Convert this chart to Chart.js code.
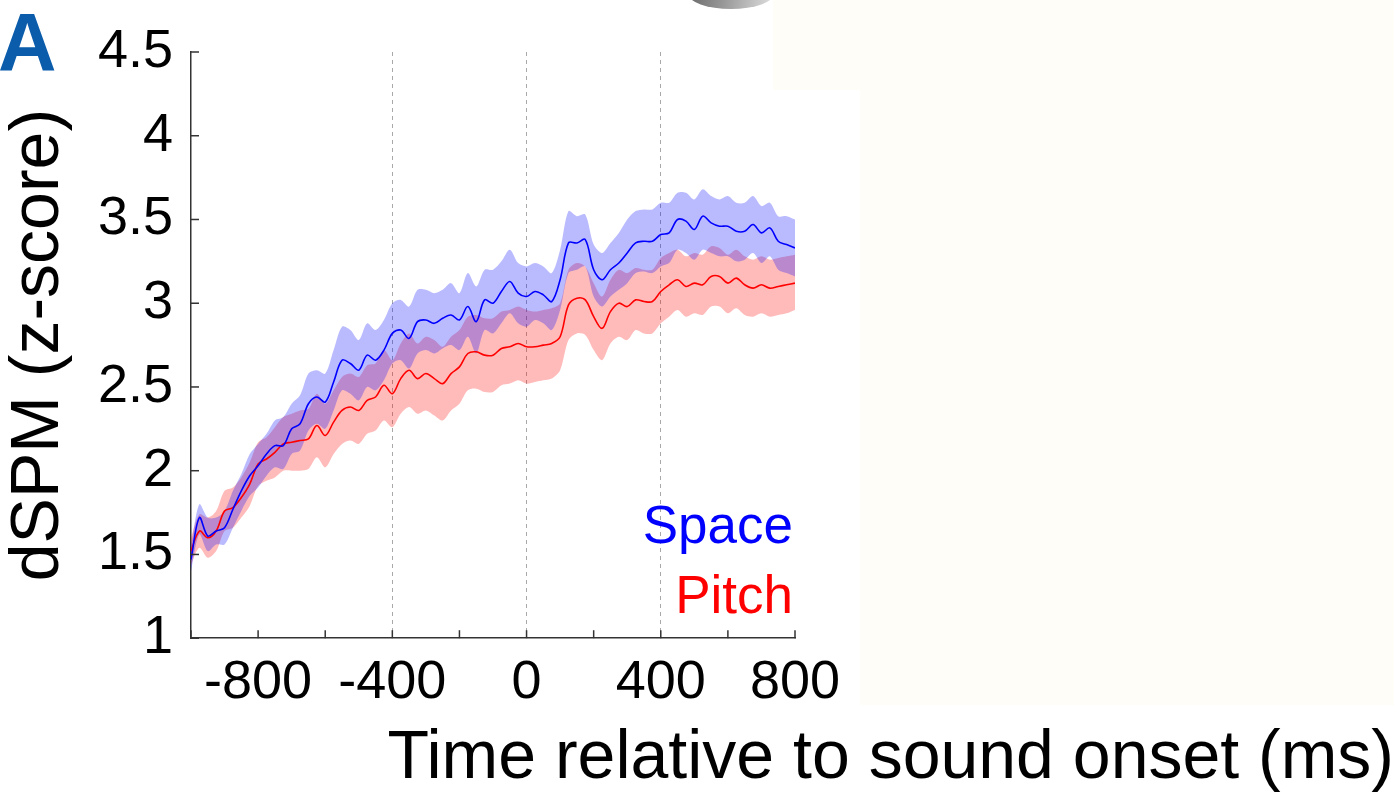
<!DOCTYPE html>
<html>
<head>
<meta charset="utf-8">
<script src="https://cdn.jsdelivr.net/npm/chart.js@4.4.1/dist/chart.umd.min.js"></script>
<style>
  html, body { margin: 0; padding: 0; background: #ffffff; overflow: hidden; }
  #wrap { position: absolute; left: 0; top: 0; width: 1394px; height: 797px; }
  .cream { position: absolute; background: #fffdf8; }
  #blob { position: absolute; left: 688px; top: -22px; width: 86px; height: 31px; border-radius: 50%;
          background: linear-gradient(100deg, #666 0%, #9a9a9a 45%, #e0e0e0 100%); }
  canvas { position: absolute; left: 0; top: 0; }
</style>
</head>
<body>
<div id="wrap">
  <div class="cream" style="left:773px; top:0; width:621px; height:90px;"></div>
  <div class="cream" style="left:860px; top:0; width:534px; height:705px;"></div>
  <div id="blob"></div>
  <canvas id="chart" width="1394" height="797"></canvas>
</div>
<script>
const times = [-1000, -975, -950, -925, -900, -875, -850, -825, -800, -775, -750, -725, -700, -675, -650, -625,
    -600, -575, -550, -525, -500, -475, -450, -425, -400, -375, -350, -325, -300, -275, -250, -225,
    -200, -175, -150, -125, -100, -75, -50, -25, 0, 25, 50, 75, 100, 125, 150, 175,
    200, 225, 250, 275, 300, 325, 350, 375, 400, 425, 450, 475, 500, 525, 550, 575,
    600, 625, 650, 675, 700, 725, 750, 775, 800];

// Space condition (blue): mean and shaded error band
const spaceMean = [1.47, 1.72, 1.61, 1.64, 1.66, 1.77, 1.88, 1.97, 2.03, 2.10, 2.15, 2.15, 2.25, 2.28, 2.40, 2.44,
    2.41, 2.53, 2.66, 2.64, 2.60, 2.69, 2.66, 2.72, 2.82, 2.84, 2.79, 2.89, 2.90, 2.88, 2.91, 2.93,
    2.90, 2.98, 2.89, 3.02, 3.00, 3.07, 3.13, 3.06, 3.04, 3.07, 3.05, 3.01, 3.14, 3.36, 3.36, 3.38,
    3.20, 3.14, 3.20, 3.24, 3.30, 3.36, 3.37, 3.37, 3.41, 3.42, 3.50, 3.49, 3.44, 3.52, 3.48, 3.46,
    3.46, 3.43, 3.43, 3.47, 3.42, 3.45, 3.37, 3.35, 3.33];
const spaceUpper = [1.55, 1.80, 1.72, 1.72, 1.76, 1.88, 1.98, 2.10, 2.16, 2.22, 2.30, 2.32, 2.40, 2.45, 2.58, 2.60,
    2.58, 2.72, 2.86, 2.84, 2.78, 2.88, 2.84, 2.90, 3.00, 3.02, 2.98, 3.08, 3.08, 3.06, 3.08, 3.12,
    3.06, 3.18, 3.10, 3.20, 3.20, 3.25, 3.32, 3.24, 3.22, 3.24, 3.22, 3.18, 3.32, 3.55, 3.52, 3.53,
    3.35, 3.30, 3.36, 3.42, 3.50, 3.55, 3.56, 3.56, 3.60, 3.60, 3.66, 3.66, 3.62, 3.68, 3.64, 3.62,
    3.64, 3.60, 3.60, 3.64, 3.58, 3.60, 3.52, 3.52, 3.50];
const spaceLower = [1.40, 1.62, 1.52, 1.56, 1.56, 1.66, 1.76, 1.85, 1.90, 1.97, 2.02, 2.01, 2.10, 2.12, 2.24, 2.28,
    2.25, 2.36, 2.48, 2.46, 2.42, 2.50, 2.48, 2.54, 2.64, 2.66, 2.61, 2.70, 2.72, 2.70, 2.73, 2.75,
    2.72, 2.80, 2.70, 2.84, 2.82, 2.88, 2.94, 2.88, 2.86, 2.90, 2.88, 2.84, 2.96, 3.18, 3.20, 3.22,
    3.04, 2.98, 3.04, 3.08, 3.12, 3.18, 3.19, 3.18, 3.22, 3.24, 3.32, 3.30, 3.26, 3.32, 3.30, 3.28,
    3.28, 3.25, 3.26, 3.30, 3.24, 3.28, 3.20, 3.18, 3.16];

// Pitch condition (red): mean and shaded error band
const pitchMean = [1.52, 1.64, 1.60, 1.64, 1.76, 1.78, 1.84, 1.92, 2.04, 2.07, 2.11, 2.16, 2.17, 2.18, 2.19, 2.27,
    2.21, 2.29, 2.36, 2.38, 2.36, 2.42, 2.44, 2.51, 2.46, 2.55, 2.60, 2.55, 2.58, 2.55, 2.52, 2.58,
    2.62, 2.70, 2.71, 2.69, 2.69, 2.73, 2.74, 2.76, 2.74, 2.74, 2.75, 2.76, 2.80, 2.99, 3.03, 3.02,
    2.92, 2.85, 2.95, 3.00, 2.98, 3.02, 3.01, 3.01, 3.07, 3.11, 3.14, 3.10, 3.12, 3.11, 3.16, 3.16,
    3.12, 3.15, 3.11, 3.09, 3.11, 3.09, 3.10, 3.11, 3.12];
const pitchUpper = [1.60, 1.74, 1.72, 1.76, 1.88, 1.90, 1.96, 2.05, 2.17, 2.20, 2.26, 2.32, 2.34, 2.36, 2.37, 2.46,
    2.40, 2.48, 2.56, 2.58, 2.56, 2.63, 2.64, 2.72, 2.66, 2.76, 2.82, 2.76, 2.80, 2.78, 2.74, 2.80,
    2.84, 2.92, 2.93, 2.91, 2.91, 2.95, 2.96, 2.98, 2.96, 2.95, 2.96, 2.97, 3.00, 3.20, 3.24, 3.22,
    3.12, 3.04, 3.14, 3.20, 3.18, 3.21, 3.20, 3.20, 3.27, 3.30, 3.32, 3.28, 3.30, 3.29, 3.34, 3.33,
    3.29, 3.32, 3.28, 3.26, 3.28, 3.26, 3.27, 3.28, 3.29];
const pitchLower = [1.44, 1.54, 1.48, 1.52, 1.64, 1.66, 1.72, 1.79, 1.91, 1.94, 1.96, 2.00, 2.00, 2.00, 2.01, 2.08,
    2.02, 2.10, 2.16, 2.18, 2.16, 2.22, 2.24, 2.30, 2.26, 2.34, 2.38, 2.34, 2.36, 2.33, 2.30, 2.36,
    2.40, 2.48, 2.49, 2.47, 2.47, 2.51, 2.52, 2.54, 2.52, 2.53, 2.54, 2.55, 2.60, 2.78, 2.82, 2.81,
    2.72, 2.66, 2.76, 2.80, 2.78, 2.84, 2.82, 2.82, 2.88, 2.92, 2.96, 2.92, 2.94, 2.93, 2.98, 2.98,
    2.94, 2.97, 2.93, 2.92, 2.94, 2.92, 2.93, 2.94, 2.96];

const xTickLabels = [-800, -400, 0, 400, 800];
const dashedTimes = [-400, 0, 400];
const legendNames = ['Space', 'Pitch'];
const legendColors = ['#0000ff', '#ff0000'];
const legendValues = [1.567, 1.149];

const FONT = '"Liberation Sans", Arial, Helvetica, sans-serif';

function pts(ys) {
    return times.map((t, i) => ({ x: t, y: ys[i] }));
}

function band(ys, fill, color) {
    return {
        data: pts(ys),
        fill: fill,
        backgroundColor: color,
        borderWidth: 0,
        pointRadius: 0,
        tension: 0.3
    };
}

function line(ys, color) {
    return {
        data: pts(ys),
        fill: false,
        borderColor: color,
        borderWidth: 1.6,
        pointRadius: 0,
        tension: 0.35
    };
}

// inward tick marks, coloured labels and the panel letter
const overlay = {
    id: 'overlay',
    afterDraw(chart) {
        const { ctx, scales: { x, y } } = chart;
        ctx.save();
        ctx.strokeStyle = '#333';
        ctx.lineWidth = 1.5;
        y.ticks.forEach(t => {
            const py = y.getPixelForValue(t.value);
            ctx.beginPath();
            ctx.moveTo(x.left, py);
            ctx.lineTo(x.left + 8, py);
            ctx.stroke();
        });
        x.ticks.forEach(t => {
            const px = x.getPixelForValue(t.value);
            ctx.beginPath();
            ctx.moveTo(px, y.bottom);
            ctx.lineTo(px, y.bottom - 8);
            ctx.stroke();
        });

        ctx.font = '53px ' + FONT;
        ctx.textAlign = 'right';
        ctx.textBaseline = 'alphabetic';
        legendNames.forEach((name, i) => {
            ctx.fillStyle = legendColors[i];
            ctx.fillText(name, x.right - 2, y.getPixelForValue(legendValues[i]));
        });

        ctx.font = 'bold 81px ' + FONT;
        ctx.textAlign = 'left';
        ctx.fillStyle = '#0b5cab';
        ctx.fillText('A', -2, 70);
        ctx.restore();
    }
};

const ctx = document.getElementById('chart');
new Chart(ctx, {
    type: 'line',
    data: {
        datasets: [
            line(spaceMean, '#0000ff'),
            line(pitchMean, '#ff0000'),
            band(spaceUpper, '+1', 'rgba(0, 0, 255, 0.27)'),
            band(spaceLower, false, 'rgba(0, 0, 255, 0.27)'),
            band(pitchUpper, '+1', 'rgba(255, 0, 0, 0.27)'),
            band(pitchLower, false, 'rgba(255, 0, 0, 0.27)')
        ]
    },
    options: {
        responsive: false,
        animation: false,
        events: [],
        layout: { padding: { top: 52, left: 0, right: 0, bottom: 0 } },
        plugins: {
            legend: { display: false },
            tooltip: { enabled: false },
            title: {
                display: true,
                position: 'bottom',
                align: 'end',
                text: 'Time relative to sound onset (ms)',
                color: '#000',
                font: { family: FONT, size: 68, weight: 'normal', lineHeight: 1.1 },
                padding: { top: 0, bottom: 0 }
            }
        },
        scales: {
            x: {
                type: 'linear',
                min: -1000,
                max: 800,
                afterFit: s => { s.height = 84; },
                ticks: {
                    stepSize: 200,
                    autoSkip: false,
                    maxRotation: 0,
                    padding: 13,
                    color: '#000',
                    font: { family: FONT, size: 54 },
                    callback: v => xTickLabels.includes(v) ? String(v) : ''
                },
                grid: {
                    drawTicks: false,
                    lineWidth: 1,
                    color: c => (c.tick && dashedTimes.includes(c.tick.value)) ? '#a8a8a8' : 'rgba(0,0,0,0)'
                },
                border: { display: true, color: '#333', width: 1.5, dash: [4, 4] }
            },
            y: {
                min: 1,
                max: 4.5,
                afterFit: s => { s.width = 191; },
                ticks: {
                    stepSize: 0.5,
                    padding: 18,
                    color: '#000',
                    font: { family: FONT, size: 54 },
                    callback: v => String(v)
                },
                grid: { display: false, drawTicks: false },
                border: { display: true, color: '#333', width: 1.5 },
                title: {
                    display: true,
                    text: 'dSPM (z-score)',
                    color: '#000',
                    font: { family: FONT, size: 68, lineHeight: 1.1 },
                    padding: { top: 2, bottom: 0 }
                }
            },
            yR: {
                position: 'right',
                afterFit: s => { s.width = 599; },
                ticks: { display: false },
                grid: { display: false, drawTicks: false },
                border: { display: false }
            }
        }
    },
    plugins: [overlay]
});
</script>
</body>
</html>
